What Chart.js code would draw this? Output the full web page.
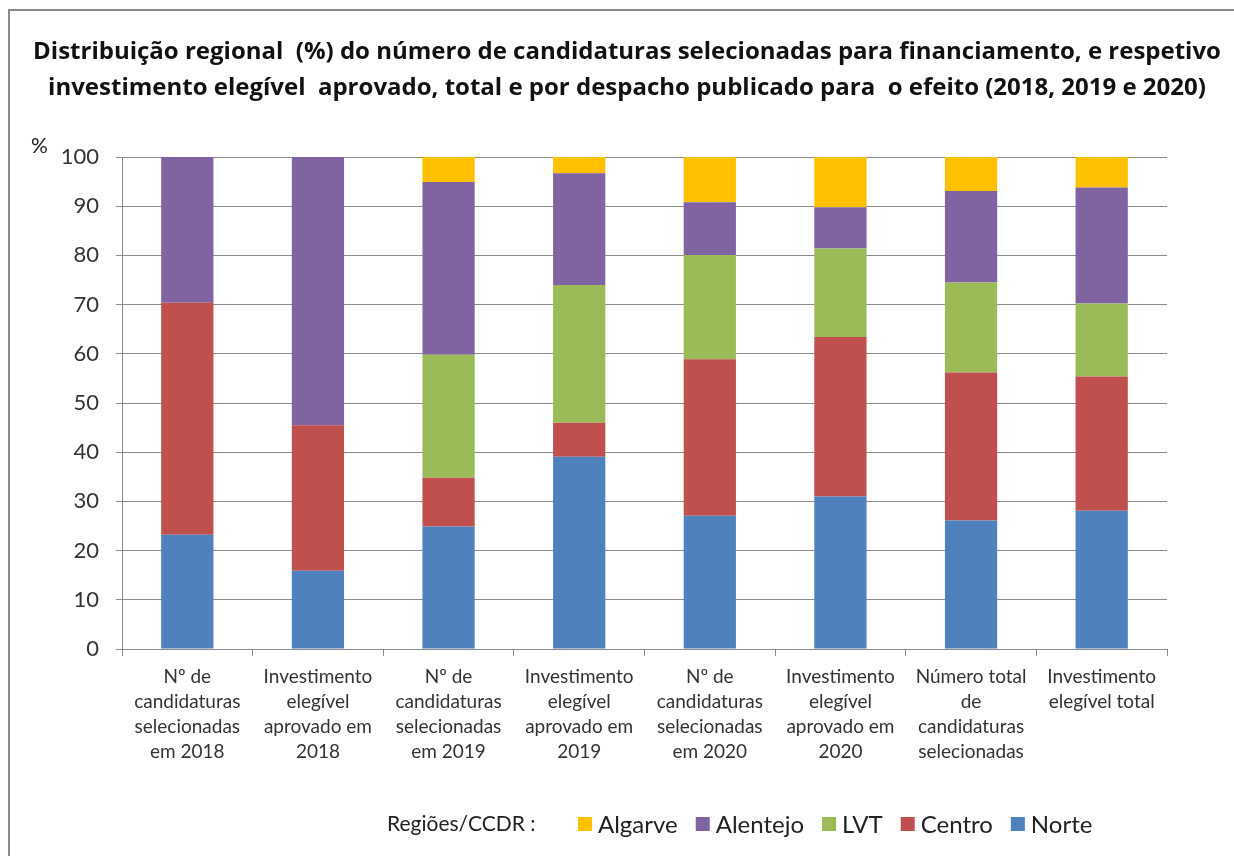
<!DOCTYPE html>
<html>
<head>
<meta charset="utf-8">
<script src="https://cdn.jsdelivr.net/npm/chart.js@4.4.1/dist/chart.umd.min.js"></script>
<style>
  html, body { margin: 0; padding: 0; background: #fff; }
  #wrap { position: relative; width: 1234px; height: 856px; }
</style>
</head>
<body>
<div id="wrap"><canvas id="regionChart" width="1234" height="856"></canvas></div>
<script>
// Categories (x axis)
var categories = [
    ['Nº de', 'candidaturas', 'selecionadas', 'em 2018'],
    ['Investimento', 'elegível', 'aprovado em', '2018'],
    ['Nº de', 'candidaturas', 'selecionadas', 'em 2019'],
    ['Investimento', 'elegível', 'aprovado em', '2019'],
    ['Nº de', 'candidaturas', 'selecionadas', 'em 2020'],
    ['Investimento', 'elegível', 'aprovado em', '2020'],
    ['Número total', 'de', 'candidaturas', 'selecionadas'],
    ['Investimento', 'elegível total']
];

// Percentages by region (stacked, bottom to top)
var norte    = [23.2, 15.9, 24.9, 39.1, 27.1, 31.0, 26.1, 28.1];
var centro   = [47.2, 29.6,  9.9,  6.9, 31.8, 32.4, 30.1, 27.3];
var lvt      = [ 0.0,  0.0, 25.0, 28.0, 21.2, 18.0, 18.3, 14.8];
var alentejo = [29.6, 54.5, 35.1, 22.7, 10.7,  8.4, 18.6, 23.6];
var algarve  = [ 0.0,  0.0,  5.1,  3.3,  9.2, 10.2,  6.9,  6.2];

var yTicks = [0, 10, 20, 30, 40, 50, 60, 70, 80, 90, 100];

var titleLines = [
    'Distribuição regional  (%) do número de candidaturas selecionadas para financiamento, e respetivo',
    'investimento elegível  aprovado, total e por despacho publicado para  o efeito (2018, 2019 e 2020)'
];

var FONT = 'Lato, "Open Sans", sans-serif';
var TITLE_FONT = '"Open Sans", Lato, sans-serif';
var gridColor = '#8c8c8c';

// frame, title, "%" label and bottom legend
var decorPlugin = {
    id: 'decor',
    beforeDraw: function(chart) {
        var ctx = chart.ctx;
        ctx.save();
        ctx.fillStyle = '#fff';
        ctx.fillRect(0, 0, chart.width, chart.height);
        ctx.strokeStyle = '#8a8a8a';
        ctx.lineWidth = 2;
        ctx.strokeRect(9, 10, 1400, 1000);
        ctx.restore();
    },
    afterDraw: function(chart) {
        var ctx = chart.ctx;
        ctx.save();
        ctx.textBaseline = 'middle';

        // title
        ctx.fillStyle = '#111';
        ctx.textAlign = 'center';
        ctx.font = 'bold 24px ' + TITLE_FONT;
        ctx.fillText(titleLines[0], 627, 52);
        ctx.fillText(titleLines[1], 627, 88);

        ctx.textAlign = 'left';
        ctx.fillStyle = '#222';
        ctx.font = '21px ' + FONT;
        ctx.fillText('%', 31, 146);

        // legend, reversed order like the original
        var y = 824;
        var x = 387;
        ctx.fillText('Regiões/CCDR :', x, y);
        x = 578;
        ctx.font = '24px ' + FONT;
        var sets = chart.data.datasets.slice().reverse();
        sets.forEach(function(ds) {
            ctx.fillStyle = ds.backgroundColor;
            ctx.fillRect(x, y - 7, 14, 14);
            ctx.fillStyle = '#222';
            ctx.fillText(ds.label, x + 20, y + 1);
            x += 20 + ctx.measureText(ds.label).width + 18;
        });
        ctx.restore();
    }
};

var ctx = document.getElementById('regionChart').getContext('2d');
var regionChart = new Chart(ctx, {
    type: 'bar',
    data: {
        labels: categories,
        datasets: [
            { label: 'Norte',    data: norte,    backgroundColor: '#4F81BD' },
            { label: 'Centro',   data: centro,   backgroundColor: '#C0504D' },
            { label: 'LVT',      data: lvt,      backgroundColor: '#9BBB59' },
            { label: 'Alentejo', data: alentejo, backgroundColor: '#8064A2' },
            { label: 'Algarve',  data: algarve,  backgroundColor: '#FFC000' }
        ]
    },
    options: {
        responsive: false,
        animation: false,
        layout: { padding: { left: 0, right: 67, top: 157, bottom: 0 } },
        datasets: { bar: { barPercentage: 0.4, categoryPercentage: 1.0, borderWidth: 0 } },
        scales: {
            x: {
                stacked: true,
                offset: true,
                grid: { display: true, drawOnChartArea: false, drawTicks: true, tickLength: 7, color: gridColor, offset: true },
                border: { display: true, color: gridColor },
                ticks: {
                    color: '#333',
                    font: { family: FONT, size: 19, lineHeight: 1.32 },
                    padding: 8,
                    maxRotation: 0,
                    autoSkip: false
                },
                afterFit: function(s) { s.height = 207; }
            },
            y: {
                stacked: true,
                min: 0,
                max: 100,
                afterBuildTicks: function(s) { s.ticks = yTicks.map(function(v) { return { value: v }; }); },
                grid: { color: gridColor, tickLength: 6 },
                border: { display: true, color: gridColor },
                ticks: {
                    color: '#333',
                    font: { family: FONT, size: 22 },
                    padding: 17
                },
                afterFit: function(s) { s.width = 122; }
            }
        },
        plugins: {
            legend: { display: false },
            tooltip: { enabled: false },
            title: { display: false }
        }
    },
    plugins: [decorPlugin]
});
</script>
</body>
</html>
